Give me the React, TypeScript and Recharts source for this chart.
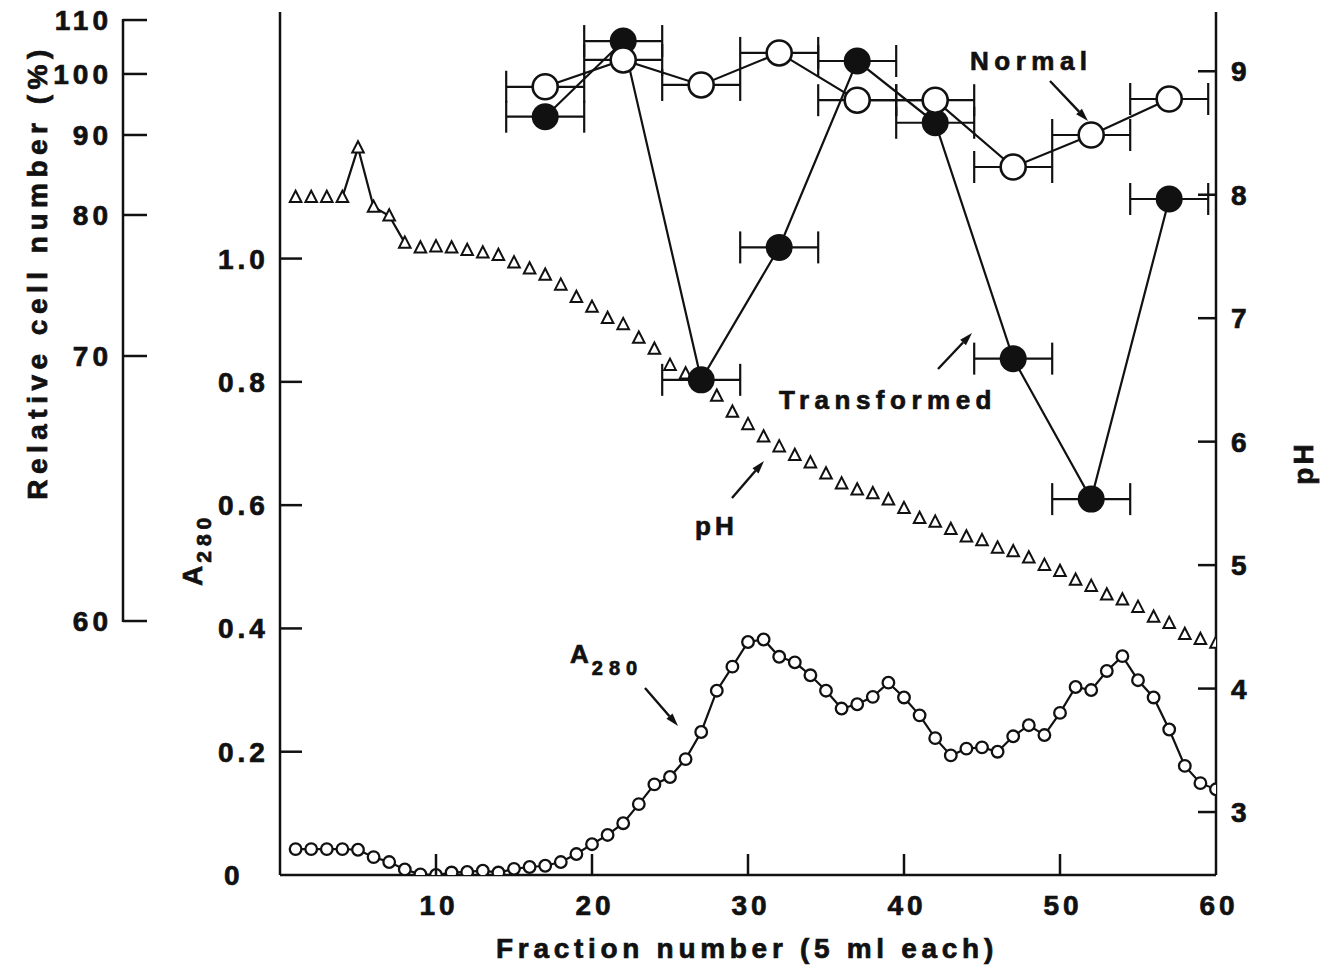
import React from "react";
import { ComposedChart, XAxis, YAxis, Line, Scatter, ErrorBar } from "recharts";

// Column fractions (5 ml each)
const FRACTIONS = Array.from({ length: 60 }, (_, i) => i + 1);

// Absorbance at 280 nm, fractions 1..60
const A280 = [
  0.042, 0.042, 0.042, 0.042, 0.041, 0.029, 0.021, 0.009, 0.001, 0.0,
  0.004, 0.005, 0.007, 0.004, 0.01, 0.013, 0.015, 0.021, 0.034, 0.05,
  0.065, 0.084, 0.115, 0.147, 0.159, 0.188, 0.232, 0.299, 0.338, 0.378,
  0.382, 0.354, 0.345, 0.324, 0.299, 0.27, 0.277, 0.289, 0.312, 0.288,
  0.259, 0.222, 0.194, 0.205, 0.207, 0.2, 0.225, 0.243, 0.227, 0.263,
  0.305, 0.3, 0.331, 0.355, 0.316, 0.288, 0.236, 0.177, 0.149, 0.139,
];

// pH of each fraction
const PH = [
  7.98, 7.98, 7.98, 7.98, 8.38, 7.9, 7.83, 7.61, 7.57, 7.58,
  7.57, 7.55, 7.53, 7.51, 7.45, 7.4, 7.35, 7.27, 7.17, 7.09,
  7.0, 6.95, 6.84, 6.75, 6.62, 6.55, 6.46, 6.37, 6.24, 6.14,
  6.04, 5.96, 5.89, 5.83, 5.74, 5.66, 5.61, 5.58, 5.53, 5.46,
  5.38, 5.35, 5.29, 5.23, 5.2, 5.14, 5.11, 5.06, 5.0, 4.95,
  4.88, 4.83, 4.76, 4.72, 4.66, 4.58, 4.53, 4.44, 4.4, 4.37,
];

// Pooled fractions (centre of each 5-fraction pool) and relative cell number (%)
const POOL_CENTERS = [17, 22, 27, 32, 37, 42, 47, 52, 57];
const POOL_HALF_WIDTH = 2.5;
const NORMAL = [97.9, 102.6, 98.2, 103.9, 95.7, 95.7, 86.0, 90.0, 95.9];
const TRANSFORMED = [93.0, 106.1, 69.1, 77.7, 102.4, 92.0, 69.9, 64.6, 82.0];

const X_TICKS = [10, 20, 30, 40, 50, 60];
const A280_TICKS = [0, 0.2, 0.4, 0.6, 0.8, 1.0];
const PH_TICKS = [3, 4, 5, 6, 7, 8, 9];

// The cell-number axis is non-linear: each labelled value sits at a share of the plot height
const CELL_AXIS_VALUES = [60, 70, 80, 90, 100, 110];
const CELL_AXIS_HEIGHT = [0.2943, 0.6014, 0.7648, 0.8575, 0.9282, 0.9907];

function cellToT(c: number) {
  const v = CELL_AXIS_VALUES;
  const h = CELL_AXIS_HEIGHT;
  let i = 0;
  while (i < v.length - 2 && c > v[i + 1]) i++;
  return h[i] + ((c - v[i]) / (v[i + 1] - v[i])) * (h[i + 1] - h[i]);
}

const a280Data = FRACTIONS.map((f, i) => ({ f, a: A280[i] }));
const phData = FRACTIONS.map((f, i) => ({ f, ph: PH[i] }));
const phRise = phData.slice(3, 8);
const normalData = POOL_CENTERS.map((f, i) => ({ f, pct: NORMAL[i], t: cellToT(NORMAL[i]), xErr: POOL_HALF_WIDTH }));
const transformedData = POOL_CENTERS.map((f, i) => ({ f, pct: TRANSFORMED[i], t: cellToT(TRANSFORMED[i]), xErr: POOL_HALF_WIDTH }));

const W = 1323;
const H = 969;
const PLOT_RIGHT = 1216;
const PLOT_LEFT = 280;
const PLOT_TOP = 12;
const PLOT_BOTTOM = 875;
const PLOT_H = PLOT_BOTTOM - PLOT_TOP;
const CELL_AXIS_X = 123;

const FONT = "'Liberation Sans', Arial, Helvetica, sans-serif";
const INK = "#111";
const txt = (size: number, spacing: number): React.CSSProperties => ({
  fontFamily: FONT,
  fontWeight: 700,
  fontSize: size,
  letterSpacing: spacing,
  fill: INK,
  stroke: INK,
  strokeWidth: 0.7,
});

function BottomTick(p: any) {
  const x = p.payload.coordinate;
  const v = p.payload.value;
  return (
    <g>
      {v < 60 && <line x1={x} x2={x} y1={PLOT_BOTTOM} y2={PLOT_BOTTOM - 21} stroke={INK} strokeWidth={2.5} />}
      <text x={x + 3} y={915} textAnchor="middle" style={txt(28, 4)}>
        {v}
      </text>
    </g>
  );
}

function TopTick(p: any) {
  const x = p.payload.coordinate;
  return <line x1={x} x2={x} y1={PLOT_TOP} y2={PLOT_TOP + 17} stroke={INK} strokeWidth={2.5} />;
}

function A280Tick(p: any) {
  const y = p.payload.coordinate;
  const v = p.payload.value;
  return (
    <g>
      {v > 0 && <line x1={PLOT_LEFT} x2={PLOT_LEFT + 22} y1={y} y2={y} stroke={INK} strokeWidth={2.5} />}
      <text x={v === 0 ? 224 : 218} y={y + 10} style={txt(28, 4)}>
        {v === 0 ? "0" : v.toFixed(1)}
      </text>
    </g>
  );
}

function CellTick(p: any) {
  const y = p.payload.coordinate;
  const t = p.payload.value;
  const idx = CELL_AXIS_HEIGHT.findIndex((h) => Math.abs(h - t) < 1e-6);
  const label = CELL_AXIS_VALUES[idx];
  const top = CELL_AXIS_HEIGHT[CELL_AXIS_HEIGHT.length - 1];
  return (
    <g>
      {idx === 0 && (
        <line x1={CELL_AXIS_X} x2={CELL_AXIS_X} y1={y + 1} y2={y - (top - t) * PLOT_H - 1} stroke={INK} strokeWidth={2.5} />
      )}
      <line x1={CELL_AXIS_X} x2={CELL_AXIS_X + 24} y1={y} y2={y} stroke={INK} strokeWidth={2.5} />
      <text x={112} y={y + 10} textAnchor="end" style={txt(28, 4)}>
        {label}
      </text>
    </g>
  );
}

function PhTick(p: any) {
  const y = p.payload.coordinate;
  return (
    <g>
      <line x1={PLOT_RIGHT} x2={PLOT_RIGHT - 18} y1={y} y2={y} stroke={INK} strokeWidth={2.5} />
      <text x={1231} y={y + 10} style={txt(28, 4)}>
        {p.payload.value}
      </text>
    </g>
  );
}

const renderA280Dot = (p: any) => (
  <circle key={`a-${p.index}`} cx={p.cx} cy={p.cy} r={5.8} fill="#fff" stroke={INK} strokeWidth={2.3} />
);

const renderTriangle = (p: any) => (
  <polygon
    key={`t-${p.index}`}
    points={`${p.cx},${p.cy - 6.5} ${p.cx - 5.8},${p.cy + 4.8} ${p.cx + 5.8},${p.cy + 4.8}`}
    fill="#fff"
    stroke={INK}
    strokeWidth={2}
    strokeLinejoin="miter"
  />
);

const openCircle = (p: any) => <circle cx={p.cx} cy={p.cy} r={12.5} fill="#fff" stroke={INK} strokeWidth={2.6} />;
const filledCircle = (p: any) => <circle cx={p.cx} cy={p.cy} r={13.5} fill={INK} />;

function Arrow({ x1, y1, x2, y2 }: { x1: number; y1: number; x2: number; y2: number }) {
  const a = Math.atan2(y2 - y1, x2 - x1);
  const len = 13;
  const half = 4;
  const bx = x2 - len * Math.cos(a);
  const by = y2 - len * Math.sin(a);
  const nx = -Math.sin(a) * half;
  const ny = Math.cos(a) * half;
  return (
    <g>
      <line x1={x1} y1={y1} x2={bx} y2={by} stroke={INK} strokeWidth={2.4} />
      <polygon points={`${x2},${y2} ${bx + nx},${by + ny} ${bx - nx},${by - ny}`} fill={INK} />
    </g>
  );
}

export default function App() {
  return (
    <div style={{ position: "absolute", left: 0, top: 0, width: W, height: H, background: "#fff" }}>
      <ComposedChart width={W} height={H} margin={{ top: PLOT_TOP, right: 0, bottom: 0, left: 0 }}>
        <XAxis
          xAxisId="f"
          dataKey="f"
          type="number"
          domain={[0, 60]}
          ticks={X_TICKS}
          interval={0}
          height={H - PLOT_BOTTOM}
          axisLine={{ stroke: INK, strokeWidth: 2.5 }}
          tickLine={false}
          tick={BottomTick}
          allowDataOverflow
        />
        <XAxis
          xAxisId="top"
          orientation="top"
          type="number"
          domain={[0, 60]}
          ticks={[10, 20, 30, 40, 50]}
          interval={0}
          height={0}
          axisLine={{ stroke: INK, strokeWidth: 2.5 }}
          tickLine={false}
          tick={TopTick}
          allowDataOverflow
        />
        <YAxis
          yAxisId="a280"
          orientation="left"
          type="number"
          domain={[0, 1.4]}
          ticks={A280_TICKS}
          interval={0}
          width={150}
          axisLine={{ stroke: INK, strokeWidth: 2.5 }}
          tickLine={false}
          tick={A280Tick}
          allowDataOverflow
        />
        <YAxis
          yAxisId="cell"
          orientation="left"
          type="number"
          dataKey="t"
          domain={[0, 1]}
          ticks={CELL_AXIS_HEIGHT}
          interval={0}
          width={130}
          axisLine={false}
          tickLine={false}
          tick={CellTick}
          allowDataOverflow
        />
        <YAxis
          yAxisId="ph"
          orientation="right"
          type="number"
          domain={[2.49, 9.48]}
          ticks={PH_TICKS}
          interval={0}
          width={W - PLOT_RIGHT}
          axisLine={{ stroke: INK, strokeWidth: 2.5 }}
          tickLine={false}
          tick={PhTick}
          allowDataOverflow
        />

        <Line
          data={phRise}
          xAxisId="f"
          yAxisId="ph"
          dataKey="ph"
          stroke={INK}
          strokeWidth={2.2}
          dot={false}
          activeDot={false}
          isAnimationActive={false}
        />
        <Line
          data={phData}
          xAxisId="f"
          yAxisId="ph"
          dataKey="ph"
          stroke="none"
          dot={renderTriangle}
          activeDot={false}
          isAnimationActive={false}
        />
        <Line
          data={a280Data}
          xAxisId="f"
          yAxisId="a280"
          dataKey="a"
          stroke={INK}
          strokeWidth={2.2}
          dot={renderA280Dot}
          activeDot={false}
          isAnimationActive={false}
        />
        <Scatter
          data={transformedData}
          xAxisId="f"
          yAxisId="cell"
          dataKey="t"
          line={{ stroke: INK, strokeWidth: 2.2 }}
          shape={filledCircle}
          isAnimationActive={false}
        >
          <ErrorBar dataKey="xErr" direction="x" width={16} stroke={INK} strokeWidth={2.2} />
        </Scatter>
        <Scatter
          data={normalData}
          xAxisId="f"
          yAxisId="cell"
          dataKey="t"
          line={{ stroke: INK, strokeWidth: 2.2 }}
          shape={openCircle}
          isAnimationActive={false}
        >
          <ErrorBar dataKey="xErr" direction="x" width={16} stroke={INK} strokeWidth={2.2} />
        </Scatter>

        {/* axis titles */}
        <text transform="translate(47, 272) rotate(-90)" textAnchor="middle" style={txt(28, 5.5)}>
          Relative cell number (%)
        </text>
        <text transform="translate(202, 586) rotate(-90)" style={txt(28, 3)}>
          A
          <tspan dy={9} style={txt(21, 5)}>
            280
          </tspan>
        </text>
        <text transform="translate(1313, 463) rotate(-90)" textAnchor="middle" style={txt(28, 3)}>
          pH
        </text>
        <text x={747} y={958} textAnchor="middle" style={txt(28, 4.7)}>
          Fraction number (5 ml each)
        </text>

        {/* curve annotations */}
        <text x={970} y={70} style={txt(26, 5.5)}>
          Normal
        </text>
        <Arrow x1={1050} y1={81} x2={1088} y2={121} />
        <text x={779} y={409} style={txt(26, 5.5)}>
          Transformed
        </text>
        <Arrow x1={938} y1={369} x2={972} y2={333} />
        <text x={695} y={535} style={txt(26, 4)}>
          pH
        </text>
        <Arrow x1={732} y1={498} x2={764} y2={461} />
        <text x={570} y={663} style={txt(26, 3)}>
          A
          <tspan dy={12} style={txt(20, 6)}>
            280
          </tspan>
        </text>
        <Arrow x1={645} y1={688} x2={678} y2={726} />
      </ComposedChart>
    </div>
  );
}
